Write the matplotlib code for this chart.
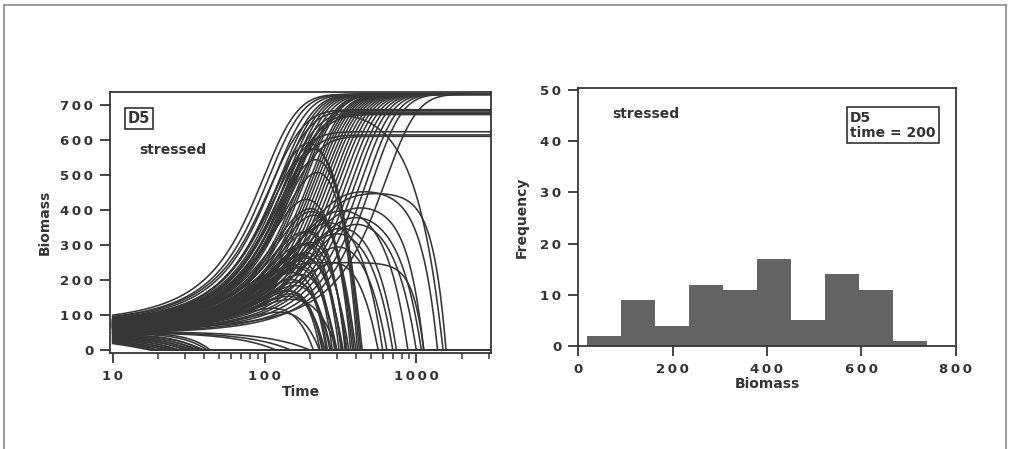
import numpy as np
import matplotlib
matplotlib.use("Agg")
import matplotlib.pyplot as plt
from matplotlib.lines import Line2D
from matplotlib.ticker import FixedLocator, FuncFormatter, NullFormatter

plt.rcParams['font.family'] = ['DejaVu Sans']
plt.rcParams['font.weight'] = 'bold'

INK = '#363636'

# --- trajectories that level off: start biomass, growth rate, final level ---
grow_y0 = [100, 96, 92, 90, 88, 86, 85, 84, 82, 80, 79, 78, 77, 76, 75, 74,
           72, 70, 69, 68, 66, 65, 64, 62, 60, 58, 57, 55, 52, 50, 60]
grow_r = [0.029, 0.027, 0.025, 0.023, 0.022, 0.021, 0.020, 0.019, 0.018, 0.017,
          0.0165, 0.016, 0.015, 0.0145, 0.014, 0.0135, 0.013, 0.0125, 0.012, 0.0115,
          0.011, 0.0105, 0.010, 0.0095, 0.009, 0.0085, 0.008, 0.0075, 0.007, 0.0065, 0.005]
grow_K = 730

plat_K = [686, 683, 679, 675, 672, 623, 614, 610]
plat_y0 = [95, 88, 84, 80, 78, 86, 82, 76]
plat_r = [0.026, 0.024, 0.022, 0.021, 0.020, 0.025, 0.023, 0.021]

# --- trajectories that rise and then die out ---
# start, level aimed at, growth rate, time of extinction, sharpness of the fall
crash_y0 = [88, 86, 84, 82, 80, 79, 78, 77, 76, 75, 74, 73, 72, 71, 70, 69, 68, 67,
            66, 65, 64, 63, 62, 61, 60, 58, 56, 55,
            72, 74, 70, 68, 66, 75, 70, 68, 65, 72, 62, 70, 80,
            52, 50, 48]
crash_K = [730, 700, 650, 600, 560, 520, 500, 480, 460, 450, 440, 430, 420, 410, 400, 390, 380, 370,
           360, 350, 340, 330, 320, 310, 300, 290, 280, 270,
           450, 460, 420, 410, 400, 430, 400, 380, 360, 420, 330, 250, 690,
           190, 175, 165]
crash_r = [0.024, 0.022, 0.021, 0.020, 0.022, 0.019, 0.018, 0.021, 0.017, 0.020, 0.016, 0.019,
           0.018, 0.016, 0.020, 0.017, 0.018, 0.015, 0.019, 0.017, 0.018, 0.015, 0.020, 0.016,
           0.018, 0.015, 0.017, 0.016,
           0.014, 0.015, 0.014, 0.013, 0.012, 0.016, 0.014, 0.015, 0.013, 0.017, 0.012, 0.030, 0.020,
           0.020, 0.022, 0.018]
crash_tc = [440, 430, 420, 410, 400, 390, 380, 370, 360, 350, 345, 340, 330, 325, 320, 310, 300, 295,
            290, 280, 275, 270, 260, 255, 250, 245, 240, 232,
            1570, 1380, 1120, 1080, 1000, 880, 740, 700, 640, 600, 560, 1120, 1500,
            300, 210, 230]
crash_n = [2.5, 3, 3.5, 4, 2.5, 3, 3.5, 4, 2.5, 3, 3.5, 4, 2.5, 3, 3.5, 4, 2.5, 3,
           3.5, 4, 2.5, 3, 3.5, 4, 2.5, 3, 3.5, 4,
           5, 4, 4, 3, 3, 3, 3, 3, 3, 3, 3, 6, 2.5,
           3, 3, 3]

# --- trajectories that never take off: start level, time of extinction ---
fall_y0 = [19, 21, 23, 25, 26, 28, 29, 31, 32, 34, 35, 37, 38, 40, 41, 43, 44, 46, 48,
           52, 50, 49]
fall_tc = [17.6, 19, 20, 22, 23, 24, 26, 27, 28, 30, 31, 32, 34, 35, 37, 38, 40, 42, 44,
           200, 150, 120]
fall_n = [1, 1.1, 1.2, 1.3, 1.0, 1.4, 1.1, 1.5, 1.2, 1.6, 1.3, 1.7, 1.4, 1.8, 1.5, 2.0, 1.6,
          2.2, 2.5, 1.5, 1.5, 1.5]

# --- size distribution at time = 200 ---
bin_edges = [18, 90, 162, 234, 306, 378, 450, 522, 594, 666, 738]
counts = [2, 9, 4, 12, 11, 17, 5, 14, 11, 1]

t = np.logspace(1, np.log10(3100), 800)


def logistic(y0, K, r):
    return K / (1 + (K / y0 - 1) * np.exp(-r * (t - 10)))


def collapse(tc, n):
    return np.clip(1 - ((t - 10) / (tc - 10)) ** n, 0, 1)


def spaced(v, pos):
    return '\u2009'.join(str(int(round(v))))


fig = plt.figure(figsize=(10.13, 4.49), dpi=100)
ax1 = fig.add_axes([0.1086, 0.2138, 0.376, 0.581])
ax2 = fig.add_axes([0.5706, 0.2294, 0.3731, 0.5746])

lw = 1.15
for y0, r in zip(grow_y0, grow_r):
    ax1.plot(t, logistic(y0, grow_K, r), color=INK, lw=lw)
for K, y0, r in zip(plat_K, plat_y0, plat_r):
    ax1.plot(t, logistic(y0, K, r), color=INK, lw=lw)
for y0, K, r, tc, n in zip(crash_y0, crash_K, crash_r, crash_tc, crash_n):
    ax1.plot(t, logistic(y0, K, r) * collapse(tc, n), color=INK, lw=lw)
for y0, tc, n in zip(fall_y0, fall_tc, fall_n):
    ax1.plot(t, y0 * collapse(tc, n), color=INK, lw=lw)

ax1.set_xscale('log')
ax1.set_xlim(9.6, 3100)
ax1.set_ylim(-8, 736)
ax1.xaxis.set_major_locator(FixedLocator([10, 100, 1000]))
ax1.xaxis.set_minor_locator(FixedLocator(
    [k * d for d in (10, 100, 1000) for k in range(2, 10) if k * d <= 3100]))
ax1.xaxis.set_minor_formatter(NullFormatter())
ax1.xaxis.set_major_formatter(FuncFormatter(spaced))
ax1.set_yticks(range(0, 701, 100))
ax1.yaxis.set_major_formatter(FuncFormatter(spaced))
ax1.set_xlabel('Time', fontsize=10, fontweight='bold', labelpad=2, color='#333333')
ax1.set_ylabel('Biomass', fontsize=10, fontweight='bold', labelpad=6, color='#333333')
ax1.text(0.076, 0.9, 'D5', transform=ax1.transAxes, fontsize=10.5, ha='center', va='center',
         color='#333333', bbox=dict(boxstyle='square,pad=0.2', fc='white', ec='#333333', lw=1.2))
ax1.text(0.078, 0.78, 'stressed', transform=ax1.transAxes, fontsize=10, ha='left', va='center',
         color='#333333')

ax2.stairs(counts, bin_edges, fill=True, color='#646464')
ax2.set_xlim(0, 800)
ax2.set_ylim(0, 50.4)
ax2.set_xticks(range(0, 801, 200))
ax2.set_yticks(range(0, 51, 10))
ax2.xaxis.set_major_formatter(FuncFormatter(spaced))
ax2.yaxis.set_major_formatter(FuncFormatter(spaced))
ax2.set_xlabel('Biomass', fontsize=10, fontweight='bold', labelpad=1, color='#333333')
ax2.set_ylabel('Frequency', fontsize=10, fontweight='bold', labelpad=8, color='#333333')
ax2.text(0.09, 0.9, 'stressed', transform=ax2.transAxes, fontsize=10, ha='left', va='center',
         color='#333333')
ax2.text(0.72, 0.855, 'D5\ntime = 200', transform=ax2.transAxes, fontsize=10, ha='left',
         va='center', color='#333333', linespacing=1.1,
         bbox=dict(boxstyle='square,pad=0.25', fc='white', ec='#333333', lw=1.2))

for ax in (ax1, ax2):
    for s in ax.spines.values():
        s.set_color(INK)
        s.set_linewidth(1.3)
    ax.tick_params(which='major', direction='out', length=7, width=1.3, colors=INK,
                   labelsize=9.5, labelcolor='#333333', pad=5)
    ax.tick_params(which='minor', direction='out', length=4, width=1.1, colors=INK)

# page frame
frame = dict(color='#8a8a8a', lw=1.2, transform=fig.transFigure)
fig.add_artist(Line2D([0.004, 0.004], [0.989, 0.0], **frame))
fig.add_artist(Line2D([0.004, 0.993], [0.989, 0.989], **frame))
fig.add_artist(Line2D([0.993, 0.993], [0.989, 0.0], **frame))

fig.savefig('out.png', dpi=100, facecolor='white')
